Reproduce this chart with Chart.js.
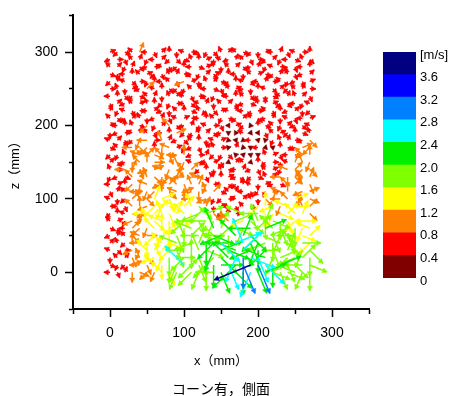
<!DOCTYPE html>
<html>
<head>
<meta charset="utf-8">
<script src="https://cdn.jsdelivr.net/npm/chart.js"></script>
<style>
  body { margin: 0; background: #fff; }
  #wrap { position: relative; width: 459px; height: 396px; }
  #field { position: absolute; left: 0; top: 0; }
  #bar { position: absolute; left: 383px; top: 0; }
</style>
</head>
<body>
<div id="wrap">
  <canvas id="field" width="459" height="396"></canvas>
  <canvas id="bar" width="76" height="396"></canvas>
</div>
<script>
// measuring grid (mm): tails of the arrows
const xPos = [0, 10, 20, 30, 40, 50, 60, 70, 80, 90, 100, 110, 120, 130,
  140, 150, 160, 170, 180, 190, 200, 210, 220, 230, 240, 250, 260, 270];
const zPos = [300, 290, 280, 270, 260, 250, 240, 230, 220, 210, 200, 190, 180, 170, 160,
  150, 140, 130, 120, 110, 100, 90, 80, 70, 60, 50, 40, 30, 20, 10, 0];

// colour scale [m/s]
const binEdges = [0, 0.4, 0.8, 1.2, 1.6, 2.0, 2.4, 2.8, 3.2, 3.6, 4.0];
const binColors = ["#800000", "#ff0000", "#ff8000", "#ffff00", "#80ff00",
  "#00f000", "#00ffff", "#0080ff", "#0000ff", "#000080"];

// speed class of each arrow (index into binColors), one row per z
const speedRows = [
  "1111 2111 1111 1111 1111 1111 1111",
  "1111 1111 1111 1111 1111 1111 1111",
  "1111 1111 1111 1111 1111 1111 1111",
  "1111 1111 1111 1111 1111 1111 1111",
  "1111 1111 1121 1111 1111 1111 1111",
  "1111 1211 1111 1111 1111 1111 1111",
  "1111 1111 1111 1111 1111 1111 1111",
  "1111 1111 1111 1111 1111 1111 1111",
  "1111 1111 1111 1111 1111 1111 1111",
  "1111 1111 1111 1111 1111 1111 1111",
  "1111 1211 2111 1111 0110 1111 1111",
  "1111 1111 1211 1111 0010 0111 1111",
  "1111 2212 1111 1111 0001 0011 1112",
  "1112 2212 2111 1111 0100 1001 1122",
  "1112 2222 2221 1111 1000 0111 1122",
  "1112 2222 2221 1111 0110 1111 1222",
  "1122 2222 2222 1111 1111 1111 2222",
  "1112 2222 2222 2111 1111 1112 2222",
  "1112 2222 2222 2211 1111 1111 2222",
  "1112 2222 2222 2221 1111 1112 2222",
  "1112 2233 3222 2211 1111 1222 2322",
  "1112 2233 3333 4211 1111 3332 3322",
  "1112 2333 3333 4421 1144 4333 3332",
  "1112 2333 3444 4442 2434 4444 3333",
  "1112 2233 3344 4454 4445 4544 4433",
  "1112 2233 3444 4455 4555 5444 4433",
  "1112 2333 3444 4556 5665 5444 4443",
  "1112 2333 3444 4455 5565 5544 4444",
  "1112 2233 4444 4445 5676 6544 4444",
  "1112 2233 4464 4455 6579 7655 4444",
  "1112 2223 3444 4445 5556 5544 4444"
];

// direction of each arrow in 16ths of a turn, clockwise from +z (hex digit)
const dirRows = [
  "3a5e 1c72 08d4 b96f 2e5a 83c1 7d40",
  "b47e 19c2 a65f 038d b1e7 4a29 c5f6",
  "e291 6b4d 7a0c 53f8 e26b 19d4 a7c0",
  "58c0 e3a7 f14b 926d 0c8e 35a1 f7b2",
  "a1d6 490c e7b3 8f25 a0d6 c14e 9b73",
  "4f83 b2d0 6a9e 1c57 f3b8 0d62 ae14",
  "c06a 5e18 f2d7 4b93 c0e6 a85d 1f27",
  "72be 3f0a 94c6 d18e 27b5 f03a 6c9d",
  "19d7 4c2b 8e05 fa63 d1c9 4e70 b28a",
  "e6a2 f8b1 7d34 c0e9 5a2f 6b18 d7c3",
  "3c0f 5a92 e6b1 8d47 c3af 05e9 2b6d",
  "8b4d 1e7c 03a9 f26b 84d1 c7e3 a05f",
  "d27a 9c4f 1b6e 08d3 a75c 2e9f 14b6",
  "5e1c 6a08 d39b 72f4 e1a8 c6d0 5b3a",
  "a9f3 d25e 7c0b 41a9 6e2d 8f37 c5e0",
  "26b8 e04a 1f9d 5c37 b2e6 0a48 d1f9",
  "f4c1 7b3d 96e2 a08f 5c1b 7e39 d2a6",
  "9b5e 2f68 a1c4 d7e0 3b9a 5f2c 86e1",
  "c30a 8d5b 2e7f 194c 6a0d 83b5 e2f7",
  "71e4 c9a0 6d3b 8f25 e1c7 a94d 06b3",
  "d8a2 f613 7e0c 5b9a 4d2f 861c e3a5",
  "4c7e 0ba9 5d2f 6183 c7e5 a0b9 d4f2",
  "a0d5 8c2f 71e9 b36a 04d7 c895 2e16",
  "e39b 1f6d 84a2 7c90 e3b6 f158 7a4c",
  "57c2 a9e0 3b8d 66f1 a59c 23e7 b89d",
  "b1e6 d4a9 87f2 c45b 8e16 a079 7c52",
  "2fa0 c87e 5d9b 18a6 c3f7 9b8d 6e4a",
  "d64b 9e12 a7c8 f593 5d2b 8a7c 1f96",
  "8e27 f6b9 84a0 78a6 e985 7d93 ab28",
  "59a3 c7e8 89ea 7a84 7a7b 7683 76c5",
  "c718 5a9e 792a 98c7 a689 7357 5d98"
];

const mmPerMs = 14;      // arrow length scale
const headPx = 3;        // triangle radius
const pxPerMm = 296 / 400;

const shafts = binColors.map(() => []);
const heads = binColors.map(() => []);
const headRot = binColors.map(() => []);

zPos.forEach((z, r) => {
  const sp = speedRows[r].replace(/ /g, "");
  const dr = dirRows[r].replace(/ /g, "");
  xPos.forEach((x, c) => {
    const bin = parseInt(sp[c], 10);
    const deg = parseInt(dr[c], 16) * 22.5;
    const v = (binEdges[bin] + binEdges[bin + 1]) / 2;
    const a = deg * Math.PI / 180;
    const len = v * mmPerMs;
    const hx = x + len * Math.sin(a);
    const hz = z + len * Math.cos(a);
    shafts[bin].push({ x: x, y: z }, { x: hx, y: hz }, { x: hx, y: null });
    const back = Math.min(len, headPx / pxPerMm);
    heads[bin].push({ x: hx - back * Math.sin(a), y: hz - back * Math.cos(a) });
    headRot[bin].push(deg);
  });
});

let datasets = [];
binColors.forEach((col, b) => {
  datasets.push({
    data: shafts[b],
    showLine: true,
    spanGaps: false,
    borderColor: col,
    borderWidth: 1.5,
    pointRadius: 0,
    order: 100 - b * 2,
  });
  datasets.push({
    data: heads[b],
    showLine: false,
    pointStyle: "triangle",
    pointRadius: headPx,
    pointRotation: headRot[b],
    pointBackgroundColor: col,
    pointBorderColor: col,
    pointBorderWidth: 0.5,
    order: 99 - b * 2,
  });
});

Chart.defaults.font.family = "'Liberation Sans', Arial, 'Noto Sans CJK JP', sans-serif";
Chart.defaults.color = "#000";

const isMinor = (ctx) => ctx.tick && Math.round(ctx.tick.value) % 100 !== 0;

new Chart(document.getElementById("field"), {
  type: "scatter",
  data: { datasets: datasets },
  options: {
    responsive: false,
    animation: false,
    devicePixelRatio: 1,
    events: [],
    layout: { padding: { left: 0, top: 14, right: 90, bottom: 0 } },
    plugins: {
      legend: { display: false },
      tooltip: { enabled: false },
      title: {
        display: true,
        position: "bottom",
        fullSize: false,
        text: "コーン有，側面",
        color: "#000",
        font: { size: 14, weight: "normal", lineHeight: 1, family: "'Noto Sans CJK JP', sans-serif" },
        padding: 0,
      },
    },
    scales: {
      x: {
        type: "linear",
        min: -50,
        max: 350,
        ticks: {
          stepSize: 50,
          padding: 8,
          autoSkip: false,
          maxRotation: 0,
          font: { size: 14 },
          callback: (v) => (v % 100 === 0 ? v : ""),
        },
        grid: {
          drawOnChartArea: false,
          tickLength: 8,
          tickWidth: 1.5,
          tickColor: "#000",
          tickBorderDash: (ctx) => (isMinor(ctx) ? [4, 100] : []),
        },
        border: { display: true, color: "#000", width: 2 },
        title: {
          display: true,
          text: "x（mm）",
          font: { size: 13 },
          padding: { top: 0, bottom: 13 },
        },
        afterFit: (s) => { s.height = 73; },
      },
      y: {
        type: "linear",
        min: -50,
        max: 350,
        ticks: {
          stepSize: 50,
          padding: 7,
          autoSkip: false,
          font: { size: 14 },
          callback: (v) => (v % 100 === 0 ? v : ""),
        },
        grid: {
          drawOnChartArea: false,
          tickLength: 8,
          tickWidth: 1.5,
          tickColor: "#000",
          tickBorderDash: (ctx) => (isMinor(ctx) ? [0, 4, 4, 100] : []),
        },
        border: { display: true, color: "#000", width: 2 },
        title: {
          display: true,
          text: "z（mm）",
          font: { size: 13 },
          padding: { top: 8, bottom: 0 },
        },
        afterFit: (s) => { s.width = 73; },
      },
    },
  },
});

// colour bar
new Chart(document.getElementById("bar"), {
  type: "bar",
  data: {
    labels: [""],
    datasets: binColors.map((c, i) => ({
      data: [binEdges[i + 1] - binEdges[i]],
      backgroundColor: c,
      borderWidth: 0,
      barPercentage: 1,
      categoryPercentage: 1,
    })),
  },
  options: {
    responsive: false,
    animation: false,
    devicePixelRatio: 1,
    events: [],
    layout: { padding: { left: 0, right: 0, top: 52, bottom: 118 } },
    plugins: { legend: { display: false }, tooltip: { enabled: false } },
    scales: {
      x: { stacked: true, display: false },
      y: {
        stacked: true,
        position: "right",
        min: 0,
        max: 4,
        ticks: {
          stepSize: 0.4,
          padding: 4,
          labelOffset: 3,
          font: { size: 13 },
          callback: (v) => (v === 0 ? "0" : Math.abs(v - 4) < 1e-6 ? "[m/s]" : v.toFixed(1)),
        },
        grid: { display: false, drawTicks: false },
        border: { display: false },
        afterFit: (s) => { s.width = 43; },
      },
    },
  },
});
</script>
</body>
</html>
